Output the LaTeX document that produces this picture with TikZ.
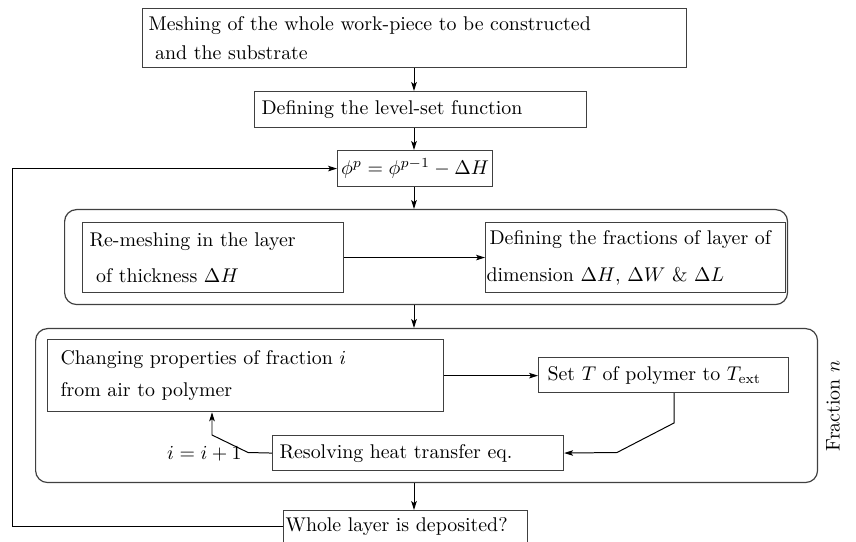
\documentclass[tikz,border=0pt]{standalone}
\usepackage{amsmath}
\usetikzlibrary{arrows.meta}
\begin{document}
\begin{tikzpicture}[
        x=0.5035pt, y=-0.5035pt,
        box/.style={draw=black!75, line width=0.6pt, rectangle, anchor=north west, align=left, inner ysep=0pt},
        frame/.style={draw=black!75, line width=0.6pt, rounded corners=6pt, anchor=north west, inner sep=0pt},
        flow/.style={line width=0.5pt, -{Stealth[length=4.5pt,width=2.8pt,inset=1pt]}}
    ]
        \useasboundingbox (0,0) rectangle (856,542);
        \coordinate (ax) at (414,0);
        \coordinate (lp) at (12,0);

        \node[frame, minimum width=364.0pt, minimum height=47.8pt] (cone) at (64,209) {};
        \node[frame, minimum width=393.7pt, minimum height=77.5pt] (ctwo) at (35,328) {};

        \node[box, inner xsep=3pt, text width=267.9pt, minimum height=29.7pt] (mesh) at (142,8)
            {Meshing of the whole work-piece to be constructed\\[2.5pt] \ and the substrate};
        \node[box, inner xsep=3.5pt, text width=160.2pt, minimum height=18.1pt] (level) at (254,91)
            {Defining the level-set function};
        \node[box, align=center, inner xsep=1.5pt, text width=75pt, minimum height=18.1pt] (phi) at (337,150)
            {$\phi^p = \phi^{p-1} - \Delta H$};
        \node[box, inner xsep=3.5pt, text width=124.4pt, minimum height=35.2pt] (remesh) at (82,222)
            {Re-meshing in the layer\\[6pt] \ of thickness $\Delta H$};
        \node[box, inner xsep=2pt, text width=147pt, minimum height=35.2pt] (frac) at (485,222)
            {Defining the fractions of layer of\\[6.5pt]\hspace*{-1.5pt}dimension $\Delta H$, $\Delta W$ \& $\Delta L$};
        \node[box, inner xsep=6.5pt, text width=186.4pt, minimum height=36.3pt] (change) at (47,339)
            {Changing properties of fraction $i$\\[4.5pt] from air to polymer};
        \node[box, inner xsep=4.5pt, text width=116.9pt, minimum height=17.6pt] (setT) at (538,357)
            {Set $T$ of polymer to $T_{\text{ext}}$};
        \node[box, inner xsep=3.5pt, text width=139.5pt, minimum height=17.6pt] (resolve) at (272,435)
            {Resolving heat transfer eq.};
        \node[box, inner xsep=1pt, text width=120.9pt, minimum height=16.1pt] (whole) at (283,510)
            {Whole layer is deposited?};

        \node[rotate=90] (fracn) at (833,406) {Fraction $n$};
        \node[anchor=base east, inner sep=0pt] (inc) at (242,460) {$i = i + 1$};

        \foreach \a/\b in {mesh/level, level/phi, phi/cone, cone/ctwo, ctwo/whole} {
            \draw[flow] (\a.south -| ax) -- (\b.north -| ax);
        }
        \draw[flow] (remesh.east) -- (frac.west);
        \draw[flow] (change.east) -- (change.east -| setT.west);

        \coordinate (t1) at (674,423);
        \coordinate (t2) at (617,452.5);
        \draw[flow] (setT.south -| t1) -- (t1) -- (t2) -- (resolve.east);

        \coordinate (r1) at (248,452.5);
        \coordinate (r2) at (212,435);
        \draw[flow] (resolve.west) -- (r1) -- (r2) -- (r2 |- change.south);

        \draw[flow] (whole.west) -- (whole.west -| lp) -- (phi.west -| lp) -- (phi.west);
    \end{tikzpicture}
\end{document}
